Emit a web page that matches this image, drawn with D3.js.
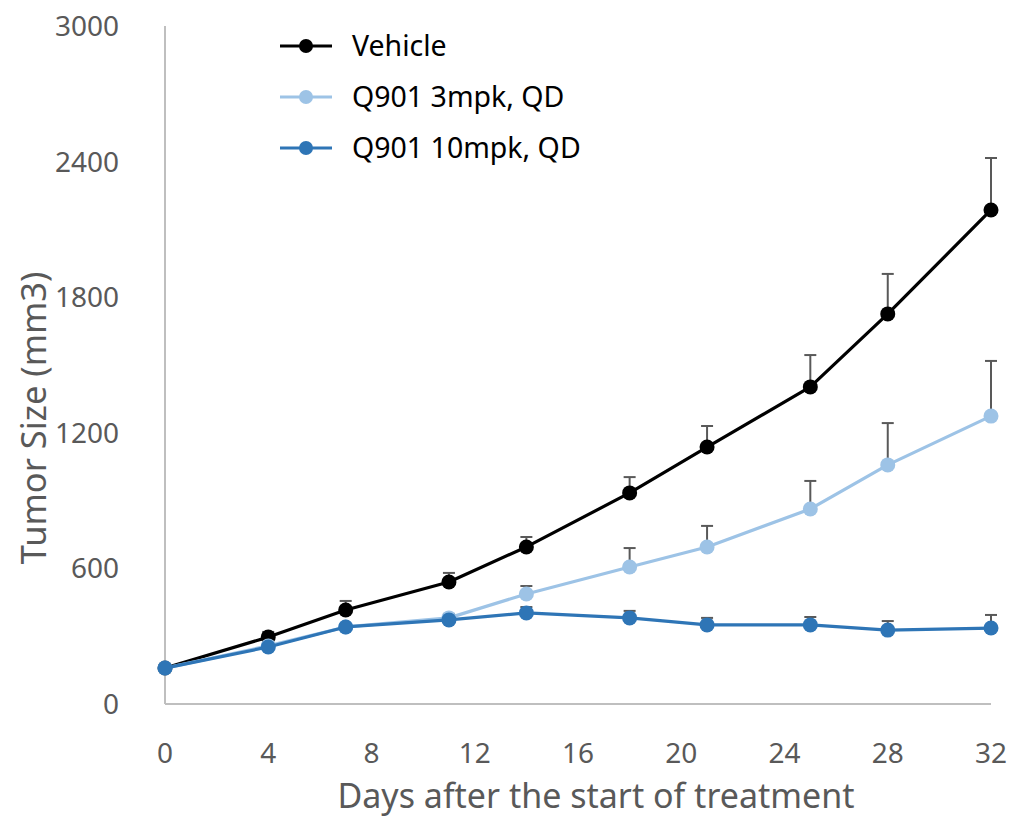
<!DOCTYPE html>
<html><head><meta charset="utf-8">
<script src="https://cdn.jsdelivr.net/npm/d3@7"></script>
<style>body{margin:0;background:#fff}</style>
</head><body><svg id="c" width="1015" height="819"></svg>
<script>
const days = [0,4,7,11,14,18,21,25,28,32];
const seriesNames = ["Vehicle","Q901 3mpk, QD","Q901 10mpk, QD"];
const vehicle   = [159,296,416,540,695,934,1137,1403,1726,2186];
const vehicleErr= [0,23,40,40,44,70,93,141,177,230];
const mpk3      = [159,257,341,381,487,606,695,863,1058,1274];
const mpk3Err   = [0,5,5,17,35,84,93,124,185,244];
const mpk10     = [159,252,341,372,403,381,350,350,327,336];
const mpk10Err  = [0,5,5,8,26,31,31,35,40,58];
const yTicks = [0,600,1200,1800,2400,3000];
const xTicks = [0,4,8,12,16,20,24,28,32];
const colors = ["#000000","#9dc3e6","#2e75b6"];

const svg = d3.select("#c");
const x = d3.scaleLinear().domain([0,32]).range([165,991]);
const y = d3.scaleLinear().domain([0,3000]).range([704,26]);

svg.append("line").attr("x1",165).attr("x2",165).attr("y1",y(3000)).attr("y2",y(0)).attr("stroke","#bfbfbf").attr("stroke-width",2);
svg.append("line").attr("x1",165).attr("x2",991).attr("y1",y(0)).attr("y2",y(0)).attr("stroke","#bfbfbf").attr("stroke-width",2);

svg.selectAll(".yt").data(yTicks).enter().append("text")
  .attr("x",119).attr("y",d=>y(d)+10).attr("text-anchor","end")
  .attr("font-family","Noto Sans").attr("font-size",28).attr("fill","#595959").text(d=>d);

svg.selectAll(".xt").data(xTicks).enter().append("text")
  .attr("x",d=>x(d)).attr("y",763).attr("text-anchor","middle")
  .attr("font-family","Noto Sans").attr("font-size",28).attr("fill","#595959").text(d=>d);

svg.append("text").attr("x",596).attr("y",808).attr("text-anchor","middle")
  .attr("font-family","Noto Sans").attr("font-size",34).attr("fill","#595959").text("Days after the start of treatment");
svg.append("text").attr("transform","translate(46,418) rotate(-90)").attr("text-anchor","middle")
  .attr("font-family","Noto Sans").attr("font-size",34.5).attr("fill","#595959").text("Tumor Size (mm3)");

const data = [
  {vals:vehicle, err:vehicleErr},
  {vals:mpk3, err:mpk3Err},
  {vals:mpk10, err:mpk10Err}
];
const line = d3.line().x((d,i)=>x(days[i])).y(d=>y(d));
data.forEach((s,k)=>{
  const g = svg.append("g");
  days.forEach((dd,i)=>{
    if(s.err[i]<=0) return;
    g.append("line").attr("x1",x(dd)).attr("x2",x(dd)).attr("y1",y(s.vals[i])).attr("y2",y(s.vals[i]+s.err[i])).attr("stroke","#595959").attr("stroke-width",2);
    g.append("line").attr("x1",x(dd)-6).attr("x2",x(dd)+6).attr("y1",y(s.vals[i]+s.err[i])).attr("y2",y(s.vals[i]+s.err[i])).attr("stroke","#595959").attr("stroke-width",2);
  });
});
data.forEach((s,k)=>{
  const g = svg.append("g");
  g.append("path").attr("d",line(s.vals)).attr("fill","none").attr("stroke",colors[k]).attr("stroke-width",3.2).attr("stroke-linejoin","round");
  g.selectAll("circle").data(s.vals).enter().append("circle")
    .attr("cx",(d,i)=>x(days[i])).attr("cy",d=>y(d)).attr("r",7.5).attr("fill",colors[k]);
});

seriesNames.forEach((n,k)=>{
  const ly = 46 + k*51;
  svg.append("line").attr("x1",280).attr("x2",332).attr("y1",ly).attr("y2",ly).attr("stroke",colors[k]).attr("stroke-width",3.2);
  svg.append("circle").attr("cx",306).attr("cy",ly).attr("r",7).attr("fill",colors[k]);
  svg.append("text").attr("x",352).attr("y",ly+10).attr("font-family","Noto Sans").attr("font-size",28.5).attr("fill","#000").text(n);
});
</script></body></html>
